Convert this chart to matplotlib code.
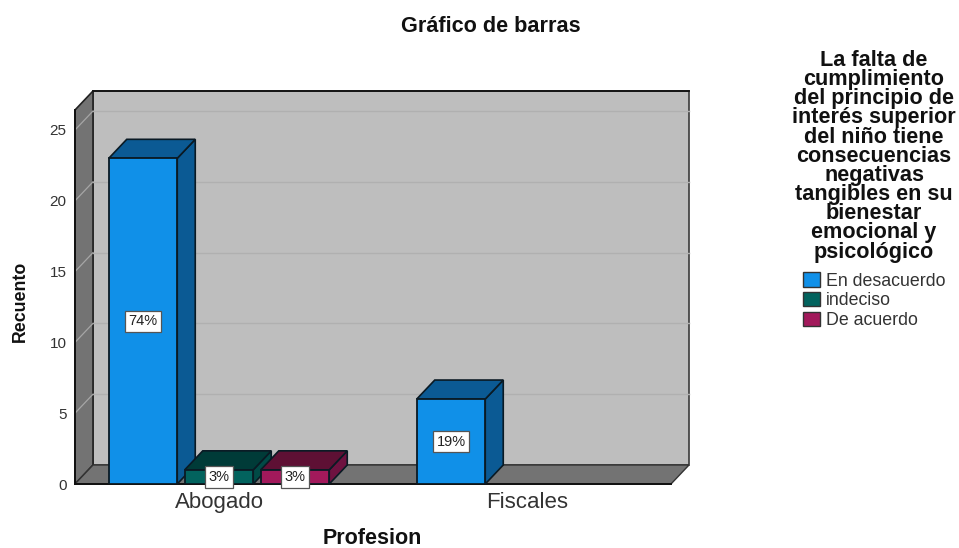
import matplotlib
matplotlib.use("Agg")
import matplotlib.pyplot as plt
from matplotlib.patches import Polygon, Patch

plt.rcParams['font.family'] = ['Liberation Sans', 'DejaVu Sans']

categories = ["Abogado", "Fiscales"]
series_names = ["En desacuerdo", "indeciso", "De acuerdo"]
abogado_values = [23, 1, 1]
fiscales_values = [6, 0, 0]
abogado_labels = ["74%", "3%", "3%"]
fiscales_labels = ["19%", "", ""]
y_ticks = [0, 5, 10, 15, 20, 25]

front_colors = ["#1090E8", "#02635E", "#A2195B"]
top_colors = ["#0B5A94", "#003B38", "#5E1034"]
side_colors = ["#0B5A94", "#014A46", "#6E1240"]

W, H = 959, 548
fig = plt.figure(figsize=(W / 100, H / 100), dpi=100)
L, R, B, T = 75, 671, 484, 110
ax = fig.add_axes([L / W, 1 - B / H, (R - L) / W, (B - T) / H])

px_per_cat = 308.0
px_per_unit = 14.16
ax.set_xlim(-(219 - L) / px_per_cat, (R - 219) / px_per_cat)
ax.set_ylim(0, (B - T) / px_per_unit)
ax.patch.set_visible(False)

dx = 18 / px_per_cat
dy = 19 / px_per_unit
x0, x1 = ax.get_xlim()
y0, y1 = ax.get_ylim()

# walls
ax.add_patch(Polygon([(x0 + dx, y0 + dy), (x1 + dx, y0 + dy), (x1 + dx, y1 + dy), (x0 + dx, y1 + dy)],
                     closed=True, fc="#BEBEBE", ec="#3A3A3A", lw=1.2, clip_on=False, zorder=0))
ax.add_patch(Polygon([(x0, y0), (x0 + dx, y0 + dy), (x0 + dx, y1 + dy), (x0, y1)],
                     closed=True, fc="#737373", ec="#222222", lw=1.2, clip_on=False, zorder=0.5))
ax.add_patch(Polygon([(x0, y0), (x1, y0), (x1 + dx, y0 + dy), (x0 + dx, y0 + dy)],
                     closed=True, fc="#737373", ec="#333333", lw=1.0, clip_on=False, zorder=0.6))
ax.plot([x0 + dx, x1 + dx], [y1 + dy, y1 + dy], color="#111111", lw=1.3, clip_on=False, zorder=0.7)

# gridlines on back and side wall
for t in y_ticks[1:]:
    ax.plot([x0 + dx, x1 + dx], [t + dy, t + dy], color="#B0B0B0", lw=1.0, clip_on=False, zorder=0.8)
    ax.plot([x0, x0 + dx], [t, t + dy], color="#A6A6A6", lw=0.9, clip_on=False, zorder=0.8)

bar_w = 68.5 / px_per_cat
offset = 76 / px_per_cat
z = 2
for cat_i, (vals, labs) in enumerate([(abogado_values, abogado_labels), (fiscales_values, fiscales_labels)]):
    for s_i, (v, lab) in enumerate(zip(vals, labs)):
        if v <= 0:
            continue
        cx = cat_i + (s_i - 1) * offset
        xl, xr = cx - bar_w / 2, cx + bar_w / 2
        ax.add_patch(Polygon([(xr, 0), (xr + dx, dy), (xr + dx, v + dy), (xr, v)], closed=True,
                             fc=side_colors[s_i], ec="#0A1A24", lw=1.2, clip_on=False, zorder=z))
        ax.add_patch(Polygon([(xl, v), (xr, v), (xr + dx, v + dy), (xl + dx, v + dy)], closed=True,
                             fc=top_colors[s_i], ec="#0A1A24", lw=1.2, clip_on=False, zorder=z))
        ax.bar(cx, v, width=bar_w, color=front_colors[s_i], edgecolor="#0A1A24", linewidth=1.3, zorder=z + 0.1)
        ax.text(cx, v / 2, lab, ha="center", va="center", fontsize=10.5, color="#222222", zorder=10,
                clip_on=False,
                bbox=dict(boxstyle="square,pad=0.25", fc="white", ec="#555555", lw=0.9))
        z += 0.2

for s in ("top", "right"):
    ax.spines[s].set_visible(False)
for s in ("left", "bottom"):
    ax.spines[s].set_color("#111111")
    ax.spines[s].set_linewidth(1.4)
    ax.spines[s].set_zorder(1)

ax.set_xticks([0, 1])
ax.set_xticklabels(categories, fontsize=16, color="#333333")
ax.set_yticks(y_ticks)
ax.set_yticklabels([str(t) for t in y_ticks], fontsize=11, color="#333333")
ax.tick_params(axis="both", length=0)
ax.tick_params(axis="x", pad=6)
ax.tick_params(axis="y", pad=6)

fig.text(491 / W, 1 - 26 / H, "Gráfico de barras", ha="center", va="center", fontsize=15.6, fontweight="bold", color="#111111")
fig.text(372.5 / W, 1 - 538 / H, "Profesion", ha="center", va="center", fontsize=15.5, fontweight="bold", color="#111111")
fig.text(20 / W, 1 - 301 / H, "Recuento", ha="center", va="center", rotation=90, fontsize=12.8, fontweight="bold", color="#111111")

handles = [Patch(fc=c, ec="#333333", lw=1.0, label=n) for c, n in zip(front_colors, series_names)]
title = ("La falta de\ncumplimiento\ndel principio de\ninterés superior\ndel niño tiene\nconsecuencias\n"
         "negativas\ntangibles en su\nbienestar\nemocional y\npsicológico")
leg = fig.legend(handles=handles, title=title, loc="upper center", bbox_to_anchor=(874 / W, 1 - 50 / H),
                 frameon=False, fontsize=12.8, handlelength=0.95, handleheight=0.85, handletextpad=0.35,
                 labelspacing=0.14, borderpad=0.0, borderaxespad=0,
                 title_fontproperties={"size": 15.6, "weight": "bold"})
leg.get_title().set_multialignment("center")
leg.get_title().set_linespacing(0.885)
leg.get_title().set_color("#111111")
leg._legend_box.sep = 7
for t in leg.get_texts():
    t.set_color("#333333")

fig.savefig("out.png", dpi=100)
